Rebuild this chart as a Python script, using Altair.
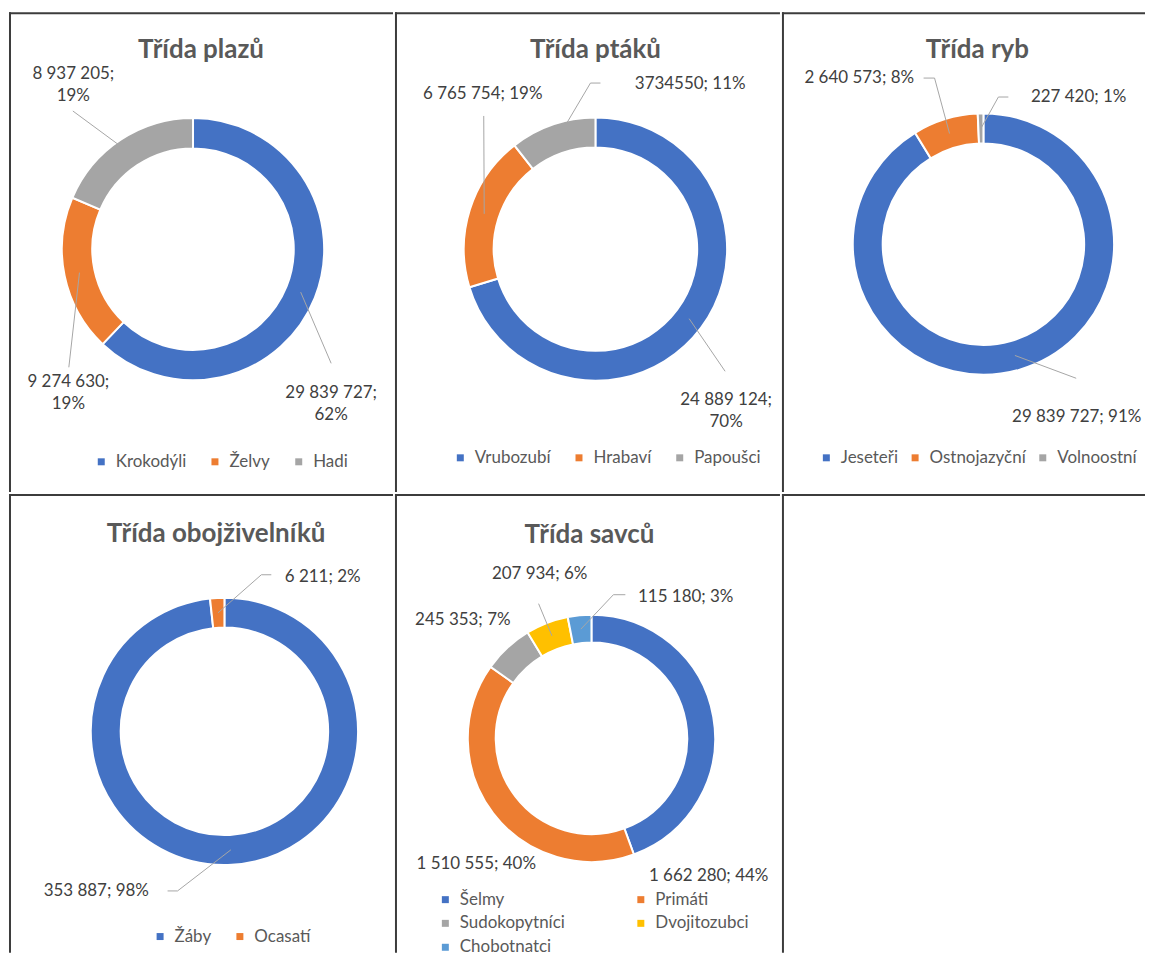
import math
import altair as alt
import pandas as pd

# ---------------- data ----------------
PLAZI_TITLE = "Třída plazů"
PLAZI_CATS = ["Krokodýli", "Želvy", "Hadi"]
PLAZI_VALS = [29839727, 9274630, 8937205]

PTACI_TITLE = "Třída ptáků"
PTACI_CATS = ["Vrubozubí", "Hrabaví", "Papoušci"]
PTACI_VALS = [24889124, 6765754, 3734550]

RYBY_TITLE = "Třída ryb"
RYBY_CATS = ["Jeseteři", "Ostnojazyční", "Volnoostní"]
RYBY_VALS = [29839727, 2640573, 227420]

OBOJ_TITLE = "Třída obojživelníků"
OBOJ_CATS = ["Žáby", "Ocasatí"]
OBOJ_VALS = [353887, 6211]

SAVCI_TITLE = "Třída savců"
SAVCI_CATS = ["Šelmy", "Primáti", "Sudokopytníci", "Dvojitozubci", "Chobotnatci"]
SAVCI_VALS = [1662280, 1510555, 245353, 207934, 115180]

PLAIN_NUMBER = {"Papoušci"}  # shown without thousands separator

# ---------------- style ----------------
PALETTE = ["#4472C4", "#ED7D31", "#A5A5A5", "#FFC000", "#5B9BD5"]
FONT = "Lato"
BORDER = "#3c3c3c"
LEADER = "#A6A6A6"
TEXT = "#404040"
TITLE = "#595959"

W1, W2, W3 = 385, 386, 364
H1, H2 = 481, 460


def fmt(v, cat):
    if cat in PLAIN_NUMBER:
        return str(v)
    return f"{v:,}".replace(",", " ")


def borders(W, H):
    base = alt.Chart(pd.DataFrame({"z": [0]})).mark_rule(color=BORDER, strokeWidth=2)
    top = base.encode(x=alt.value(0), x2=alt.value(W), y=alt.value(1))
    left = base.encode(x=alt.value(1), y=alt.value(0), y2=alt.value(H))
    return [top, left]


def donut(title, cats, vals, W, H, geom, title_pos, labels, legend):
    cx, cy, ro, ri = geom
    total = sum(vals)
    colors = PALETTE[: len(cats)]
    df = pd.DataFrame({"cat": cats, "value": vals, "idx": list(range(len(cats)))})

    rows_t, rows_l = [], []
    cum = 0
    rm = (ro + ri) / 2
    for c, v in zip(cats, vals):
        a0 = cum / total * 2 * math.pi
        cum += v
        a1 = cum / total * 2 * math.pi
        am = (a0 + a1) / 2
        sx = cx + rm * math.sin(am)
        sy = cy - rm * math.cos(am)
        lay = labels[c]
        sep = "\n" if lay.get("two") else " "
        text = f"{fmt(v, c)};{sep}{round(v / total * 100)}%"
        rows_t.append({"cat": c, "t": text, "x": lay["x"], "y": lay["y"]})
        if lay.get("leader"):
            pts = [(sx, sy)] + lay["leader"]
            for k, (px, py) in enumerate(pts):
                rows_l.append({"cat": c, "k": k, "x": px, "y": py})

    leg = dict(
        orient="none", legendX=legend["x"], legendY=legend["y"], direction="horizontal",
        title=None, symbolType="square", symbolSize=49, symbolStrokeWidth=0,
        labelFont=FONT, labelFontSize=legend.get("fs", 17), labelColor=TITLE, labelOffset=6,
        columnPadding=legend.get("colpad", 20), rowPadding=legend.get("rowpad", 8),
    )
    if legend.get("columns"):
        leg["columns"] = legend["columns"]

    arc = alt.Chart(df).mark_arc(
        outerRadius=ro, innerRadius=ri, stroke="white", strokeWidth=2
    ).encode(
        theta=alt.Theta("value:Q", stack=True),
        color=alt.Color("cat:N", scale=alt.Scale(domain=cats, range=colors),
                        legend=alt.Legend(**leg)),
        order=alt.Order("idx:Q"),
        x=alt.value(cx),
        y=alt.value(cy),
    )

    layers = borders(W, H) + [arc]
    if rows_l:
        leaders = alt.Chart(pd.DataFrame(rows_l)).mark_line(color=LEADER, strokeWidth=1).encode(
            x=alt.X("x:Q", scale=None, axis=None),
            y=alt.Y("y:Q", scale=None, axis=None),
            detail="cat:N",
            order="k:Q",
        )
        layers.append(leaders)
    lbl = alt.Chart(pd.DataFrame(rows_t)).mark_text(
        font=FONT, fontSize=17, color=TEXT, lineBreak="\n", lineHeight=22,
        align="center", baseline="middle",
    ).encode(
        text="t:N",
        x=alt.X("x:Q", scale=None, axis=None),
        y=alt.Y("y:Q", scale=None, axis=None),
    )
    ttl = alt.Chart(pd.DataFrame({"t": [title]})).mark_text(
        font=FONT, fontSize=26, fontWeight="bold", color=TITLE,
        align="center", baseline="alphabetic",
    ).encode(text="t:N", x=alt.value(title_pos[0]), y=alt.value(title_pos[1]))
    layers += [lbl, ttl]
    return alt.layer(*layers).properties(width=W, height=H)


p1 = donut(
    PLAZI_TITLE, PLAZI_CATS, PLAZI_VALS, W1, H1,
    geom=(184.5, 237.5, 131.5, 101), title_pos=(192.5, 46),
    labels={
        "Krokodýli": {"x": 323, "y": 382, "two": True, "leader": [(323, 352)]},
        "Želvy": {"x": 59.5, "y": 371, "two": True, "leader": [(60, 356)]},
        "Hadi": {"x": 64.5, "y": 62, "two": True, "leader": [(64, 99)]},
    },
    legend={"x": 84, "y": 442},
)

p2 = donut(
    PTACI_TITLE, PTACI_CATS, PTACI_VALS, W2, H1,
    geom=(201, 237.5, 132, 102), title_pos=(201, 46),
    labels={
        "Vrubozubí": {"x": 332, "y": 389, "two": True, "leader": [(331, 360)]},
        "Hrabaví": {"x": 88, "y": 81.5, "leader": [(89, 104)]},
        "Papoušci": {"x": 296, "y": 71.5, "leader": [(196, 71), (206, 71)]},
    },
    legend={"x": 57, "y": 438},
)

p3 = donut(
    RYBY_TITLE, RYBY_CATS, RYBY_VALS, W3, H1,
    geom=(202, 232.5, 131, 101), title_pos=(196, 46),
    labels={
        "Jeseteři": {"x": 295.5, "y": 406, "leader": [(295, 367)]},
        "Ostnojazyční": {"x": 77.5, "y": 66, "leader": [(153, 66), (142, 66)]},
        "Volnoostní": {"x": 297.5, "y": 85, "leader": [(217, 85), (227, 85)]},
    },
    legend={"x": 36, "y": 438, "colpad": 8},
)

p4 = donut(
    OBOJ_TITLE, OBOJ_CATS, OBOJ_VALS, W1, H2,
    geom=(216, 238, 134, 104), title_pos=(207.7, 48),
    labels={
        "Žáby": {"x": 87.5, "y": 398.5, "leader": [(169, 398), (159, 398)]},
        "Ocasatí": {"x": 314.5, "y": 83, "leader": [(253, 81), (263, 81)]},
    },
    legend={"x": 143, "y": 435},
)

p5 = donut(
    SAVCI_TITLE, SAVCI_CATS, SAVCI_VALS, W2, H2,
    geom=(197, 245, 124, 96), title_pos=(195, 48.7),
    labels={
        "Šelmy": {"x": 314.5, "y": 383},
        "Primáti": {"x": 81.5, "y": 371.5},
        "Sudokopytníci": {"x": 68, "y": 126.5},
        "Dvojitozubci": {"x": 145, "y": 80.5, "leader": [(144, 110)]},
        "Chobotnatci": {"x": 291.5, "y": 103, "leader": [(219, 101), (231, 101)]},
    },
    legend={"x": 42, "y": 398, "columns": 2, "colpad": 67, "rowpad": 6},
)

p6 = alt.layer(*borders(W3, H2)).properties(width=W3, height=H2)

row1 = alt.hconcat(p1, p2, p3, spacing=0).resolve_scale(color="independent", theta="independent")
row2 = alt.hconcat(p4, p5, p6, spacing=0).resolve_scale(color="independent", theta="independent")

chart = (
    alt.vconcat(row1, row2, spacing=0)
    .resolve_scale(color="independent", theta="independent")
    .properties(padding={"left": 0, "top": 2, "right": 0, "bottom": 0}, background="white")
    .configure_view(stroke=None)
)

chart.save("out.html", embed_options={"renderer": "svg", "actions": False})
